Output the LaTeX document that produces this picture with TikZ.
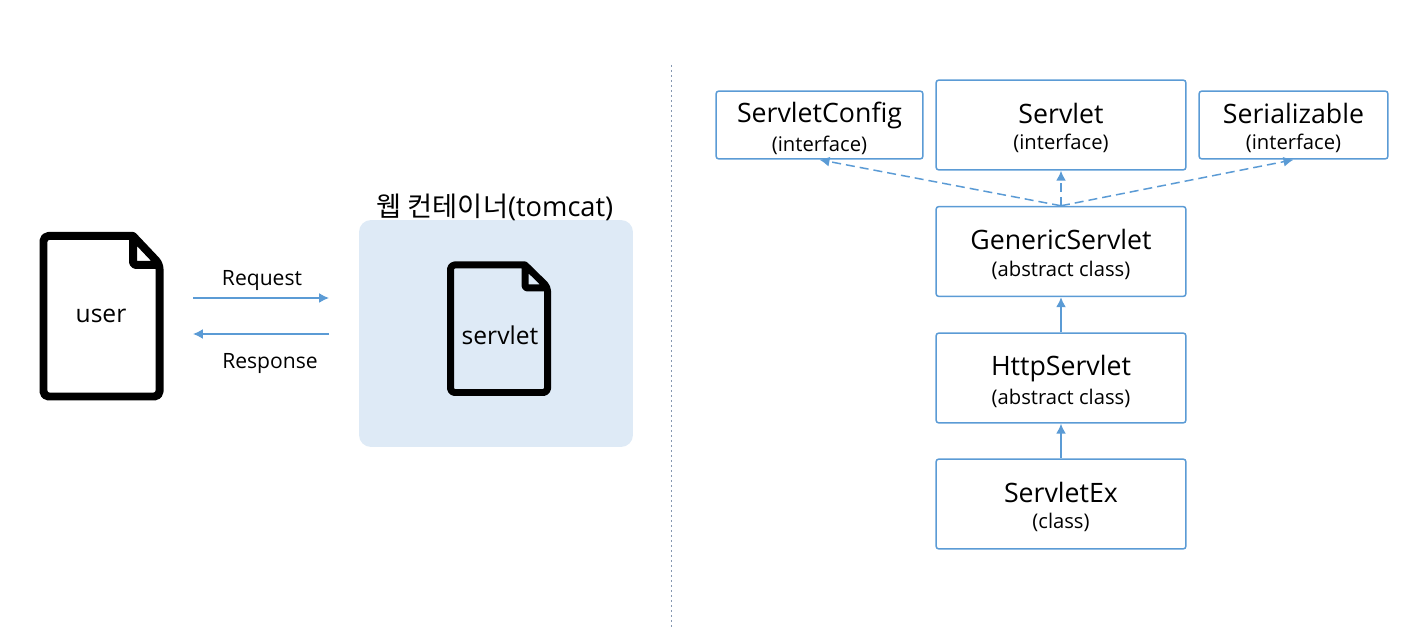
\documentclass[tikz,border=0pt]{standalone}
\usepackage{fontspec}
\setmainfont{Open Sans}
\newfontfamily\cjk{Noto Sans CJK KR}
\usetikzlibrary{arrows.meta}
\definecolor{boxblue}{HTML}{5B9BD5}
\definecolor{paleblue}{HTML}{DEEAF6}
\definecolor{divgray}{HTML}{8497B0}
\tikzset{
	classbox/.style={draw=boxblue,line width=0.03cm,rounded corners=0.06cm,align=center,inner sep=0pt,minimum width=5cm,minimum height=1.8cm},
	smallbox/.style={classbox,minimum height=1.36cm},
	fileline/.style={line width=0.16cm,line join=round},
	link/.style={draw=boxblue,line width=0.03cm,-{Latex[length=0.2cm,width=0.2cm]}},
	dashlink/.style={link,dash pattern=on 0.18cm off 0.1cm}
}
\newcommand{\classlabel}[2]{{\fontsize{15.2pt}{19pt}\selectfont\rule{0pt}{0.53cm}#1}\\[0.11cm]{\fontsize{11.5pt}{14pt}\selectfont #2}}
\begin{document}
\begin{tikzpicture}[x=0.02cm,y=-0.02cm]
	\useasboundingbox (0,0) rectangle (1411,628);

	% user file
	\draw[fileline] (133,236) [rounded corners=0.1cm] -- (43.5,236) -- (43.5,396.5) -- (159.5,396.5) -- (159.5,264) [sharp corners] -- (133,236) [rounded corners=0.06cm] -- (133,265) [sharp corners] -- (159.5,265);
	\node[font=\fontsize{14pt}{17pt}\selectfont] (user) at (101,316) {user};

	% container
	\node[fill=paleblue,rounded corners=0.24cm,minimum width=5.48cm,minimum height=4.54cm,inner sep=0pt] (container) at (496,333.5) {};
	\node[font=\fontsize{15.5pt}{19pt}\selectfont] (containername) at (495,207) {{\cjk 웹 컨테이너}(tomcat)};
	\draw[fileline,line width=0.14cm] (525,265) [rounded corners=0.08cm] -- (450.5,265) -- (450.5,392.5) -- (547.5,392.5) -- (547.5,287) [sharp corners] -- (525,265) [rounded corners=0.05cm] -- (525,288) [sharp corners] -- (547.5,288);
	\node[font=\fontsize{14pt}{17pt}\selectfont] (servlet) at (500,335) {servlet};

	% request and response
	\coordinate (reqstart) at (193,298);
	\coordinate (reqend) at (329,298);
	\coordinate (resstart) at (329,334);
	\coordinate (resend) at (193,334);
	\draw[link] (reqstart) -- (reqend);
	\draw[link] (resstart) -- (resend);
	\node[font=\fontsize{12pt}{14pt}\selectfont] (request) at (262,281) {Request};
	\node[font=\fontsize{12pt}{14pt}\selectfont] (response) at (270,364) {Response};

	% divider
	\coordinate (divtop) at (671,65);
	\coordinate (divbottom) at (671,628);
	\draw[divgray,line width=0.02cm,dash pattern=on 0.05cm off 0.05cm] (divtop) -- (divbottom);

	% classes
	\node[smallbox,minimum width=4.14cm] (config) at (819.5,125) {\classlabel{ServletConfig}{(interface)}};
	\node[classbox] (servletif) at (1061,125) {\classlabel{Servlet}{(interface)}};
	\node[smallbox,minimum width=3.78cm] (serial) at (1293.5,125) {\classlabel{Serializable}{(interface)}};
	\node[classbox] (generic) at (1061,251.5) {\classlabel{GenericServlet}{(abstract class)}};
	\node[classbox] (http) at (1061,378) {\classlabel{HttpServlet}{(abstract class)}};
	\node[classbox] (servletex) at (1061,504) {\classlabel{ServletEx}{(class)}};

	% arrows
	\draw[dashlink] (generic.north) -- (config.south);
	\draw[dashlink] (generic.north) -- (servletif.south);
	\draw[dashlink] (generic.north) -- (serial.south);
	\draw[link] (http.north) -- (generic.south);
	\draw[link] (servletex.north) -- (http.south);
\end{tikzpicture}
\end{document}
